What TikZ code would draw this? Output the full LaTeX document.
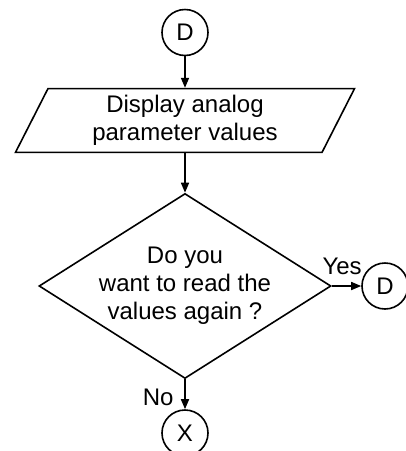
\documentclass[tikz,border=0pt]{standalone}
\usepackage{fontspec}
\setmainfont{Liberation Sans}
\usetikzlibrary{arrows.meta}
\usetikzlibrary{shapes.geometric}

\begin{document}
\begin{tikzpicture}[x=0.5pt, y=-0.5pt, line width=0.8pt,
  font=\fontsize{12}{14}\selectfont,
  conn/.style={draw, circle, minimum size=23pt, inner sep=0pt},
  io/.style={draw, trapezium, trapezium left angle=63, trapezium right angle=117,
    trapezium stretches body, minimum width=169.5pt, minimum height=31.5pt, align=center},
  decision/.style={draw, diamond, minimum width=146pt, minimum height=92.5pt, inner sep=0pt},
  flow/.style={-{Triangle[length=5pt,width=4pt]}}]
\useasboundingbox (0,0) rectangle (406,451);
\node[conn] (start) at (185,32.5) {D};
\node[io] (show) at (185,120.5) {Display analog\\parameter values};
\node[decision] (again) at (185,286) {};
\node[align=center] at (again) {Do you\\want to read the\\values again ?};
\node[conn] (back) at (385,286) {D};
\node[conn] (stop) at (185,433) {X};
\draw[flow] (start) -- (show);
\draw[flow] (show) -- (again);
\draw[flow] (again) -- node[above=2pt, pos=0.35] {Yes} (back);
\draw[flow] (again) -- node[left=2pt, pos=0.6] {No} (stop);
\end{tikzpicture}
\end{document}
